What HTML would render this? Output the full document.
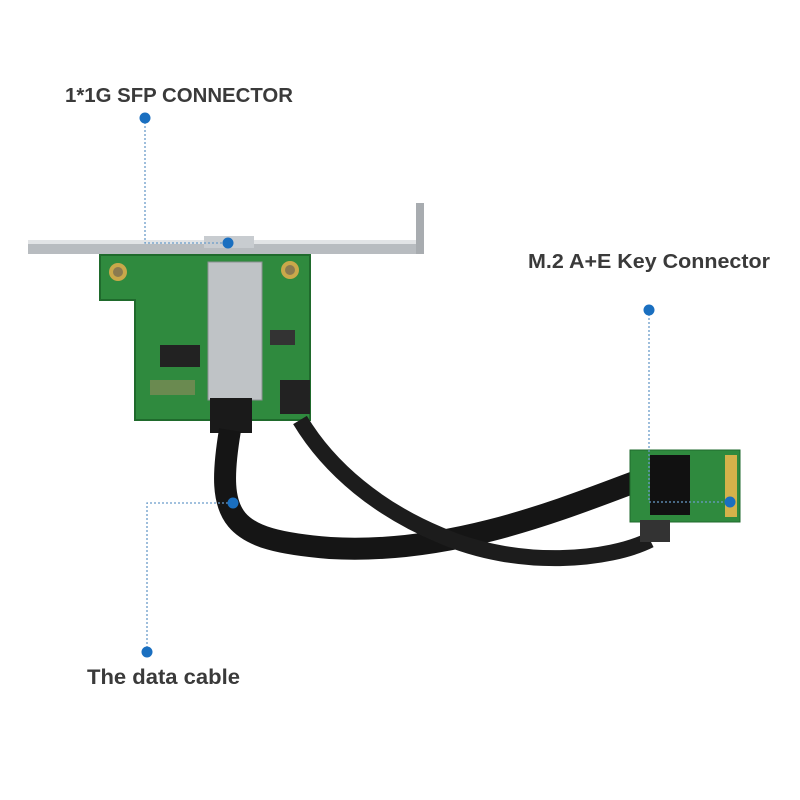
<!DOCTYPE html>
<html><head><meta charset="utf-8"><style>
html,body{margin:0;padding:0;background:#fff;}
svg{display:block;}
text{font-family:"Liberation Sans",sans-serif;font-weight:bold;fill:#3a3a3a;}
</style></head><body>
<svg width="800" height="800" viewBox="0 0 800 800" xmlns="http://www.w3.org/2000/svg">
<rect width="800" height="800" fill="#fff"/>
<rect x="28" y="240" width="395" height="14" fill="#b8bcc0"/>
<rect x="28" y="240" width="395" height="4" fill="#e2e4e6"/>
<rect x="416" y="203" width="8" height="51" fill="#a8acb0"/>
<path d="M100 255 H310 V420 H135 V300 H100 Z" fill="#2f8a3e"/>
<path d="M100 255 H310 V420 H135 V300 H100 Z" fill="none" stroke="#1f6a2c" stroke-width="2"/>
<circle cx="118" cy="272" r="9" fill="#c9a84a"/><circle cx="118" cy="272" r="5" fill="#8a7a50"/>
<circle cx="290" cy="270" r="9" fill="#c9a84a"/><circle cx="290" cy="270" r="5" fill="#8a7a50"/>
<rect x="160" y="345" width="40" height="22" fill="#222"/>
<rect x="150" y="380" width="45" height="15" fill="#6a8a50"/>
<rect x="270" y="330" width="25" height="15" fill="#333"/>
<rect x="208" y="262" width="54" height="138" fill="#bfc3c6" stroke="#8c9094"/>
<rect x="204" y="236" width="50" height="12" fill="#c8ccd0"/>
<rect x="210" y="398" width="42" height="35" fill="#1a1a1a"/>
<rect x="280" y="380" width="30" height="34" fill="#222"/>
<path d="M230 430 C215 520 230 540 330 548 C450 555 560 510 640 480" fill="none" stroke="#151515" stroke-width="22"/>
<path d="M300 420 C330 470 380 510 440 535 C520 570 610 560 650 540" fill="none" stroke="#1c1c1c" stroke-width="16"/>
<rect x="630" y="450" width="110" height="72" fill="#2f8a3e" stroke="#1f6a2c"/>
<rect x="725" y="455" width="12" height="62" fill="#d4b24a"/>
<rect x="650" y="455" width="40" height="60" fill="#111"/>
<rect x="640" y="520" width="30" height="22" fill="#333"/>
<g stroke="#6a9cc9" stroke-width="1.3" stroke-dasharray="2,2" fill="none">
<path d="M145 118 V243 H228"/>
<path d="M649 310 V502 H730"/>
<path d="M147 652 V503 H233"/>
</g>
<g fill="#1a6fc0">
<circle cx="145" cy="118" r="5.5"/><circle cx="228" cy="243" r="5.5"/>
<circle cx="649" cy="310" r="5.5"/><circle cx="730" cy="502" r="5.5"/>
<circle cx="147" cy="652" r="5.5"/><circle cx="233" cy="503" r="5.5"/>
</g>
<text x="65" y="102" font-size="20" textLength="228" lengthAdjust="spacingAndGlyphs">1*1G SFP CONNECTOR</text>
<text x="528" y="268" font-size="20" textLength="242" lengthAdjust="spacingAndGlyphs">M.2 A+E Key Connector</text>
<text x="87" y="684" font-size="21" textLength="153" lengthAdjust="spacingAndGlyphs">The data cable</text>
</svg>
</body></html>
